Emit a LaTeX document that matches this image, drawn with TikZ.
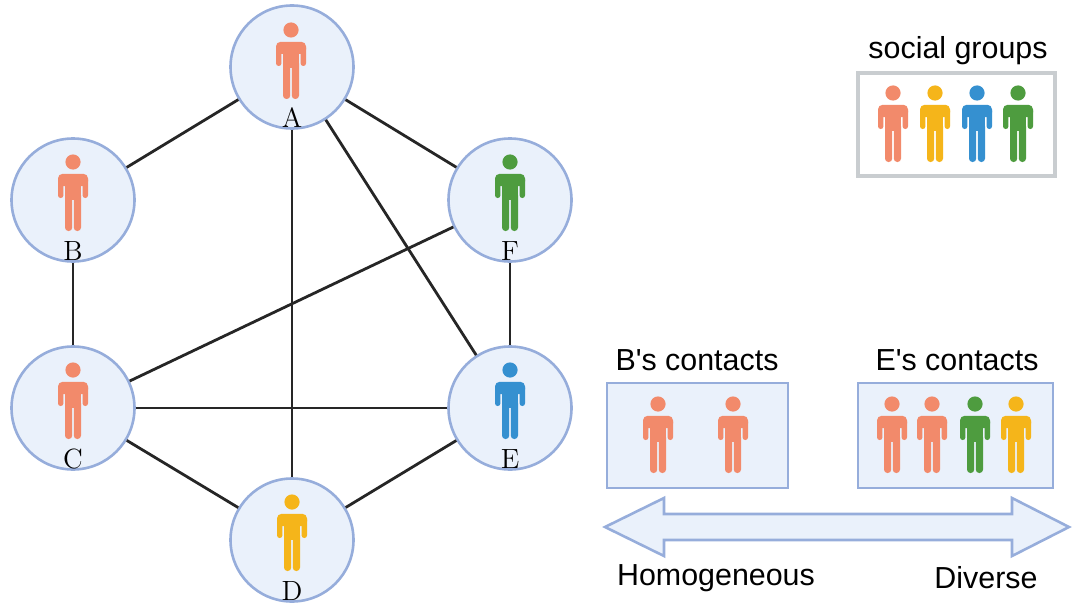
\documentclass[tikz,border=0pt]{standalone}
\usepackage{fontspec}
\newfontfamily\sans{Liberation Sans}
\definecolor{pOra}{HTML}{F28A6B}
\definecolor{pYel}{HTML}{F5B51A}
\definecolor{pBlu}{HTML}{3590D0}
\definecolor{pGrn}{HTML}{4E9C3F}
\definecolor{cFill}{HTML}{EAF1FB}
\definecolor{cLine}{HTML}{96ADDB}
\definecolor{gLine}{HTML}{C9CDD0}
\definecolor{eLine}{HTML}{262626}
\tikzset{
  pics/person/.style={code={
    \fill[#1] (0,0) circle (7.6);
    \fill[#1,rounded corners=2.3pt] (-15,11.8) rectangle (15,24);
    \fill[#1,rounded corners=1.3pt] (-15,15) rectangle (-9.6,36);
    \fill[#1,rounded corners=1.3pt] (9.6,15) rectangle (15,36);
    \fill[#1] (-8,14) rectangle (8,38);
    \fill[#1,rounded corners=1.7pt] (-8,30) rectangle (-0.8,69);
    \fill[#1,rounded corners=1.7pt] (0.8,30) rectangle (8,69);
  }},
  circ/.style={circle,draw=cLine,fill=cFill,line width=1.3pt,minimum size=61.5pt,inner sep=0pt},
  lab/.style={inner sep=0pt,font=\fontsize{13.9}{16}\selectfont},
  edge/.style={draw=eLine,line width=1.4pt},
  sanslab/.style={inner sep=0pt,font=\sans\fontsize{15.2}{18}\selectfont},
  cbox/.style={rectangle,draw=cLine,fill=cFill,line width=1.3pt,inner sep=0pt},
  gbox/.style={rectangle,draw=gLine,fill=white,line width=1.6pt,inner sep=0pt}
}
\begin{document}
\begin{tikzpicture}[x=0.5pt,y=-0.5pt]
\useasboundingbox (0,0) rectangle (1080,610);
% graph nodes
\node[circ] (A) at (292,67) {};
\node[circ] (B) at (73,200) {};
\node[circ] (F) at (510,200) {};
\node[circ] (C) at (73,408) {};
\node[circ] (E) at (510,408) {};
\node[circ] (D) at (292,540) {};
% edges
\draw[edge] (A) -- (B);
\draw[edge] (A) -- (D);
\draw[edge] (A) -- (E);
\draw[edge] (A) -- (F);
\draw[edge] (B) -- (C);
\draw[edge] (C) -- (F);
\draw[edge] (C) -- (E);
\draw[edge] (C) -- (D);
\draw[edge] (D) -- (E);
\draw[edge] (F) -- (E);
% icons in nodes
\pic at (291,30) {person=pOra};
\pic at (73,162) {person=pOra};
\pic at (510,162) {person=pGrn};
\pic at (73,370) {person=pOra};
\pic at (510,370) {person=pBlu};
\pic at (292,502) {person=pYel};
% labels
\node[lab] (lA) at (292,118) {A};
\node[lab] (lB) at (73,251) {B};
\node[lab] (lF) at (510,251) {F};
\node[lab] (lC) at (73,459) {C};
\node[lab] (lE) at (510,459) {E};
\node[lab] (lD) at (292,591) {D};
% legend
\node[sanslab] (tsg) at (958,51) {social groups};
\node[gbox,minimum width=98.5pt,minimum height=51.5pt] (sg) at (956.5,124.5) {};
\pic at (893,93) {person=pOra};
\pic at (935,93) {person=pYel};
\pic at (977,93) {person=pBlu};
\pic at (1018,93) {person=pGrn};
% contacts
\node[sanslab] (tB) at (697,360) {B\textquotesingle s contacts};
\node[cbox,minimum width=90.5pt,minimum height=52.5pt] (bB) at (697.5,435.5) {};
\pic at (658,404) {person=pOra};
\pic at (733,404) {person=pOra};
\node[sanslab] (tE) at (957,360) {E\textquotesingle s contacts};
\node[cbox,minimum width=97.5pt,minimum height=52.5pt] (bE) at (955.5,435.5) {};
\pic at (892,404) {person=pOra};
\pic at (932,404) {person=pOra};
\pic at (975,404) {person=pGrn};
\pic at (1016,404) {person=pYel};
% arrow
\draw[draw=cLine,fill=cFill,line width=1.3pt,line join=miter]
  (605,527) -- (664,498) -- (664,514) -- (1012,514) -- (1012,498) -- (1069,527)
  -- (1012,556) -- (1012,540) -- (664,540) -- (664,556) -- cycle;
\node[sanslab] (tH) at (716,578) {Homogeneous};
\node[sanslab] (tD) at (986,578) {Diverse};
\end{tikzpicture}
\end{document}
